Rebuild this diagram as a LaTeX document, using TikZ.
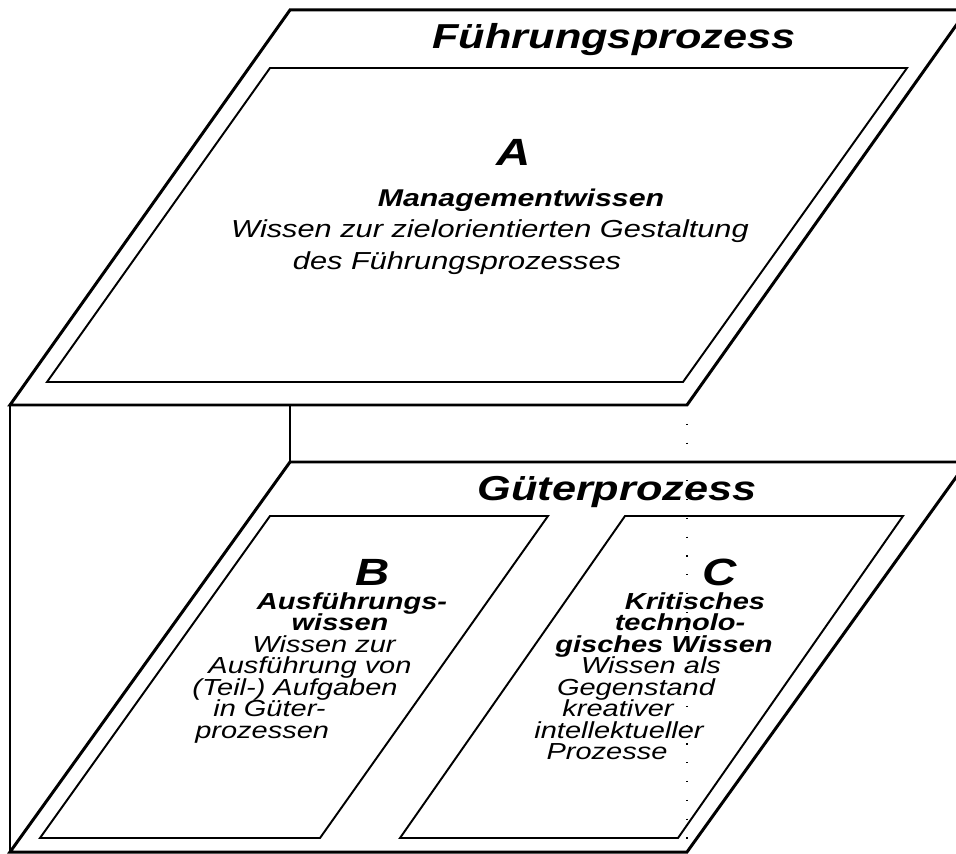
\documentclass[tikz,border=0pt]{standalone}
\usepackage{fontspec}
\setmainfont[FakeStretch=1.25]{Liberation Sans}
\tikzset{
  slab/.style={line width=1.7pt, line join=miter},
  panel/.style={line width=1.1pt, line join=miter},
  hidden/.style={line width=0.7pt, dash pattern=on 0.7pt off 10pt},
  titletext/.style={anchor=base, inner sep=0pt, font=\fontsize{19.7}{22}\selectfont\bfseries\itshape},
  letter/.style={anchor=base, inner sep=0pt, font=\fontsize{21.6}{24}\selectfont\bfseries\itshape},
  head/.style={anchor=base, inner sep=0pt, font=\fontsize{13.2}{15}\selectfont\bfseries\itshape},
  body/.style={anchor=base, inner sep=0pt, font=\fontsize{13.2}{15}\selectfont\itshape},
}
\begin{document}
\begin{tikzpicture}[x=0.02cm, y=-0.02cm]
\useasboundingbox (0,0) rectangle (956,854);
\clip (0,0) rectangle (956,854);

\coordinate (topTL) at (290,10);
\coordinate (topTR) at (967,10);
\coordinate (topBR) at (687,405);
\coordinate (topBL) at (10,405);
\coordinate (lowTL) at (290,462);
\coordinate (lowTR) at (967,462);
\coordinate (lowBR) at (687,852);
\coordinate (lowBL) at (10,852);

\draw[slab] (topTL) -- (topTR) -- (topBR) -- (topBL) -- cycle;
\draw[slab] (lowTL) -- (lowTR) -- (lowBR) -- (lowBL) -- cycle;
\draw[slab] (topBL) -- (lowBL);
\draw[slab] (290,405) -- (lowTL);
\draw[hidden] (topBR) -- (lowBR);

\draw[panel] (270,68) -- (907,68) -- (683,382) -- (47,382) -- cycle;
\draw[panel] (270,516) -- (548,516) -- (320,838) -- (40,838) -- cycle;
\draw[panel] (625,516) -- (903,516) -- (678,838) -- (400,838) -- cycle;

\node[titletext] (fuehrung) at (614,49) {Führungsprozess};
\node[letter] (letA) at (514,166) {A};
\node[head, font=\fontsize{13.8}{16}\selectfont\bfseries\itshape] (headA) at (521,207) {Managementwissen};
\node[body, font=\fontsize{14}{16}\selectfont\itshape] (bodyA1) at (490,238) {Wissen zur zielorientierten Gestaltung};
\node[body, font=\fontsize{14}{16}\selectfont\itshape] (bodyA2) at (457,270) {des Führungsprozesses};

\node[titletext] (gueter) at (617,500) {Güterprozess};

\node[letter] (letB) at (373,585) {B};
\node[head] (headB1) at (352,609) {Ausführungs-};
\node[head] (headB2) at (340,630.5) {wissen};
\node[body] (bodyB1) at (324,652) {Wissen zur};
\node[body] (bodyB2) at (310,673.5) {Ausführung von};
\node[body] (bodyB3) at (295,695) {(Teil-) Aufgaben};
\node[body, anchor=base west] (bodyB4) at (213,716.5) {in Güter-};
\node[body, anchor=base west] (bodyB5) at (195,738) {prozessen};

\node[letter] (letC) at (720,585) {C};
\node[head] (headC1) at (695,609) {Kritisches};
\node[head] (headC2) at (680,630.5) {technolo-};
\node[head] (headC3) at (664,652) {gisches Wissen};
\node[body] (bodyC1) at (651,673.5) {Wissen als};
\node[body] (bodyC2) at (636,695) {Gegenstand};
\node[body] (bodyC3) at (618,716.5) {kreativer};
\node[body] (bodyC4) at (619,738) {intellektueller};
\node[body] (bodyC5) at (607,759.5) {Prozesse};
\end{tikzpicture}
\end{document}
